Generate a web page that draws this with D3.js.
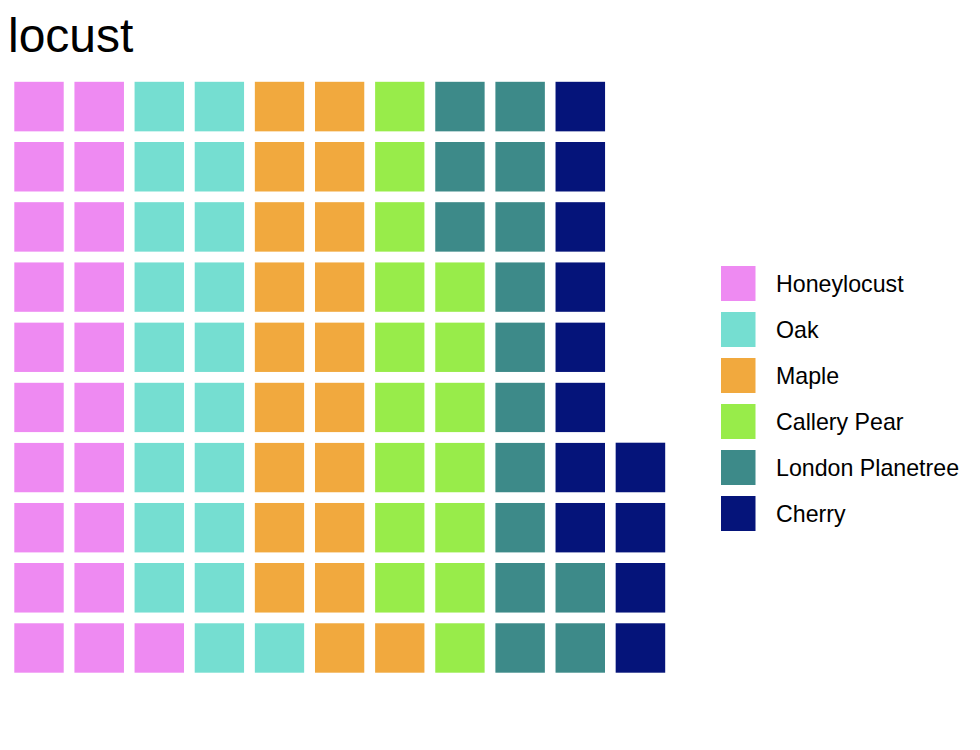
<!DOCTYPE html>
<html>
<head>
<meta charset="utf-8">
<script src="https://cdn.jsdelivr.net/npm/d3@7"></script>
<style>
  body { margin: 0; background: #fff; }
  svg { display: block; font-family: "Liberation Sans", Arial, Helvetica, sans-serif; }
</style>
</head>
<body>
<svg id="chart" width="980" height="750"></svg>
<script>
// waffle of tree species counts
const categories = ["Honeylocust", "Oak", "Maple", "Callery Pear", "London Planetree", "Cherry"];
const counts = [21, 20, 20, 16, 15, 12];
const colours = ["#EE8AF2", "#75DED1", "#F1A93E", "#98EC4A", "#3D8A89", "#05147A"];
const title = "locust";

const nRows = 10;

let svg = d3.select("#chart");

/* expand counts into one tile per unit, filled column by column, bottom up */
let tiles = [];
categories.forEach(function(c, ci) {
  for (let k = 0; k < counts[ci]; k++)
    tiles.push({ cat : c });
});
tiles.forEach(function(d, i) {
  d.col = Math.floor(i / nRows);
  d.row = nRows - 1 - (i % nRows);
});
let nCols = d3.max(tiles, d => d.col) + 1;

let x = d3.scaleBand()
  .domain(d3.range(nCols))
  .range([9, 670.5])
  .padding(0),
  y = d3.scaleBand()
  .domain(d3.range(nRows))
  .range([76.5, 678])
  .padding(0),
  colour = d3.scaleOrdinal()
  .domain(categories)
  .range(colours);

svg.append("text")
  .attr("x", 8)
  .attr("y", 52)
  .attr("font-size", 48)
  .attr("fill", "#000")
  .text(title);

let gTiles = svg.append("g").attr("class", "tiles");

// faint outline at cell edges (antialiased tile border)
gTiles.selectAll("rect.edge")
  .data(tiles)
  .enter()
  .append("rect")
  .attr("class", "edge")
  .attr("x", d => x(d.col) - 0.5)
  .attr("y", d => y(d.row) - 0.5)
  .attr("width", x.bandwidth() + 1)
  .attr("height", y.bandwidth() + 1)
  .attr("fill", "none")
  .attr("stroke", d => colour(d.cat))
  .attr("stroke-opacity", 0.12)
  .attr("stroke-width", 1);

gTiles.selectAll("rect.tile")
  .data(tiles)
  .enter()
  .append("rect")
  .attr("class", "tile")
  .attr("x", d => x(d.col))
  .attr("y", d => y(d.row))
  .attr("width", x.bandwidth())
  .attr("height", y.bandwidth())
  .attr("fill", d => colour(d.cat))
  .attr("stroke", "#fff")
  .attr("stroke-width", 10.6);

/* legend */
let legendY = d3.scaleBand()
  .domain(categories)
  .range([266, 266 + 46 * categories.length])
  .paddingInner(0);

let gLegend = svg.append("g").attr("class", "legend");
let items = gLegend.selectAll("g.item")
  .data(categories)
  .enter()
  .append("g")
  .attr("class", "item")
  .attr("transform", d => "translate(721," + legendY(d) + ")");
items.append("rect")
  .attr("width", 34.5)
  .attr("height", 35)
  .attr("fill", d => colour(d));
items.append("text")
  .attr("x", 55)
  .attr("y", 18)
  .attr("dy", "0.36em")
  .attr("font-size", 23.2)
  .attr("fill", "#000")
  .text(d => d);
</script>
</body>
</html>
